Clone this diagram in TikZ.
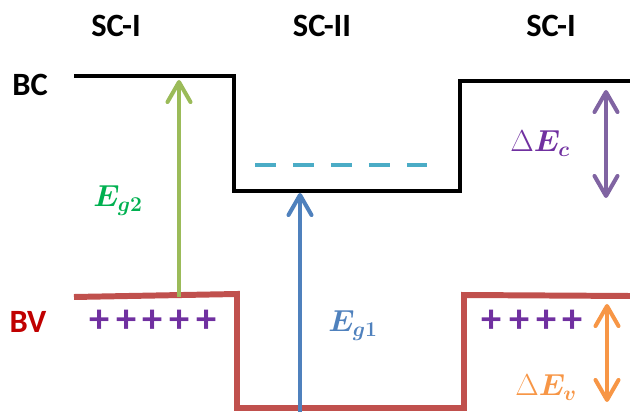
\documentclass[tikz,border=0pt]{standalone}
\usepackage[no-math]{fontspec}
\setmainfont{Carlito}
\usepackage{amsmath,bm}
\usetikzlibrary{arrows.meta}

\definecolor{bandred}{HTML}{C0504D}
\definecolor{bvred}{HTML}{C00000}
\definecolor{gapgreen}{HTML}{9BBB59}
\definecolor{labgreen}{HTML}{00B050}
\definecolor{gapblue}{HTML}{4F81BD}
\definecolor{levcyan}{HTML}{4BACC6}
\definecolor{offpurple}{HTML}{8064A2}
\definecolor{holepurple}{HTML}{7030A0}
\definecolor{offorange}{HTML}{F79646}

\begin{document}
\begin{tikzpicture}[x=0.02cm,y=-0.02cm,
    head/.style={font=\fontsize{18.5}{21}\selectfont\bfseries},
    elab/.style={anchor=base west,inner sep=0pt,font=\fontsize{17}{20}\selectfont},
    hole/.style={text=holepurple,inner sep=0pt,font=\fontsize{23}{23}\selectfont\bfseries},
    band/.style={line width=2.8pt},
    gap/.style={line width=2.3pt,-{Straight Barb[length=4mm,width=4.6mm,round]}},
    offset/.style={line width=2.3pt,{Straight Barb[length=4mm,width=4.6mm,round]}-{Straight Barb[length=4mm,width=4.6mm,round]}}]
  \useasboundingbox (0,0) rectangle (630,412);
  % layer titles and band names
  \node[head] (sc1) at (116,26) {SC-I};
  \node[head] (sc2) at (322,26) {SC-II};
  \node[head] (sc3) at (551,26) {SC-I};
  \node[head] (bc) at (30,85) {BC};
  \node[head,text=bvred] (bv) at (28,322) {BV};
  % conduction band
  \draw[band] (74,76) -- (234,76) -- (234,191) -- (460,191) -- (460,81) -- (630,81);
  % confined level in the well
  \draw[line width=2.6pt,levcyan,dash pattern=on 0.43cm off 0.33cm] (255,165) -- (427,165);
  % valence band
  \draw[line width=3.4pt,bandred] (74,297) -- (237,294) -- (237,408) -- (464,408) -- (464,295) -- (630,296);
  % holes
  \foreach \x in {100,127,153,180,207} { \node[hole] at (\x,321) {+}; }
  \foreach \x in {492,520,547,573} { \node[hole] at (\x,321) {+}; }
  % gaps and band offsets
  \coordinate (g2b) at (179,297);
  \coordinate (g2t) at (179,80);
  \coordinate (g1b) at (300,412);
  \coordinate (g1t) at (300,193);
  \coordinate (dct) at (606,90);
  \coordinate (dcb) at (606,198);
  \coordinate (dvt) at (607,304);
  \coordinate (dvb) at (607,402);
  \draw[gap,gapgreen] (g2b) -- (g2t);
  \draw[gap,gapblue] (g1b) -- (g1t);
  \draw[offset,offpurple] (dct) -- (dcb);
  \draw[offset,offorange] (dvt) -- (dvb);
  % labels
  \node[elab,text=labgreen] (eg2) at (93,207) {$\bm{E_{g2}}$};
  \node[elab,text=gapblue] (eg1) at (328,332) {$\bm{E_{g1}}$};
  \node[elab,text=holepurple] (dec) at (510,152) {$\Delta\bm{E_c}$};
  \node[elab,text=offorange] (dev) at (515,396) {$\Delta\bm{E_v}$};
\end{tikzpicture}
\end{document}
